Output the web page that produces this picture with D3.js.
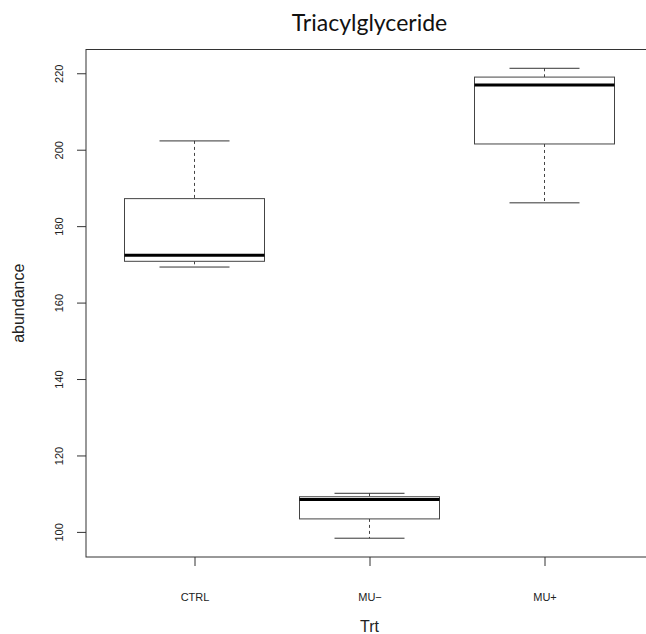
<!DOCTYPE html>
<html>
<head>
<meta charset="utf-8">
<script src="https://cdn.jsdelivr.net/npm/d3@7"></script>
<style>
  body { margin: 0; background: #fff; }
</style>
</head>
<body>
<script>
const groups = ['CTRL', 'MU\u2212', 'MU+']
const whiskerLow = [169.3, 98.35, 186.1]
const lowerQuartile = [170.8, 103.4, 201.5]
const medians = [172.4, 108.5, 216.9]
const upperQuartile = [187.2, 109.2, 219.0]
const whiskerHigh = [202.3, 110.1, 221.3]
const yTicks = [100, 120, 140, 160, 180, 200, 220]

const width = 646
const height = 634
const margin = { top: 49.5, bottom: 557, left: 86 }

const stats = groups.map((g, i) => ({
  name: g,
  pos: i + 1,
  lo: whiskerLow[i],
  q1: lowerQuartile[i],
  med: medians[i],
  q3: upperQuartile[i],
  hi: whiskerHigh[i]
}))

// R style limits: range + 4% on each side
const yMin = d3.min(whiskerLow)
const yMax = d3.max(whiskerHigh)
const yPad = (yMax - yMin) * 0.04
const xPad = (groups.length) * 0.04

const x = d3
  .scaleLinear()
  .domain([0.5 - xPad, groups.length + 0.5 + xPad])
  .range([margin.left, margin.left + 567])

const y = d3
  .scaleLinear()
  .domain([yMin - yPad, yMax + yPad])
  .range([margin.bottom, margin.top])

const svg = d3
  .select('body')
  .append('svg')
  .attr('width', width)
  .attr('height', height)
  .style('font-family', 'Liberation Sans, Arial, sans-serif')

// Title
svg
  .append('text')
  .attr('x', (x.range()[0] + x.range()[1]) / 2)
  .attr('y', 31)
  .attr('text-anchor', 'middle')
  .style('font-family', 'Lato, sans-serif')
  .style('font-size', '23px')
  .attr('fill', '#111')
  .text('Triacylglyceride')

const boxW = (x(1.4) - x(1)) // half width of box (0.8 total)
const capW = boxW / 2

const box = svg
  .selectAll('g.box')
  .data(stats)
  .enter()
  .append('g')
  .attr('class', 'box')

// whiskers
box
  .append('line')
  .attr('x1', (d) => x(d.pos))
  .attr('x2', (d) => x(d.pos))
  .attr('y1', (d) => y(d.hi))
  .attr('y2', (d) => y(d.q3))
  .attr('stroke', '#444')
  .attr('stroke-dasharray', '3,3')
box
  .append('line')
  .attr('x1', (d) => x(d.pos))
  .attr('x2', (d) => x(d.pos))
  .attr('y1', (d) => y(d.q1))
  .attr('y2', (d) => y(d.lo))
  .attr('stroke', '#444')
  .attr('stroke-dasharray', '3,3')

// staples
box
  .selectAll('line.cap')
  .data((d) => [d, d].map((s, i) => ({ pos: s.pos, v: i ? s.lo : s.hi })))
  .enter()
  .append('line')
  .attr('class', 'cap')
  .attr('x1', (d) => x(d.pos) - capW)
  .attr('x2', (d) => x(d.pos) + capW)
  .attr('y1', (d) => y(d.v))
  .attr('y2', (d) => y(d.v))
  .attr('stroke', '#333')

// box
box
  .append('rect')
  .attr('x', (d) => x(d.pos) - boxW)
  .attr('width', boxW * 2)
  .attr('y', (d) => y(d.q3))
  .attr('height', (d) => y(d.q1) - y(d.q3))
  .attr('fill', '#fff')
  .attr('stroke', '#444')

// median
box
  .append('line')
  .attr('x1', (d) => x(d.pos) - boxW)
  .attr('x2', (d) => x(d.pos) + boxW)
  .attr('y1', (d) => y(d.med))
  .attr('y2', (d) => y(d.med))
  .attr('stroke', '#000')
  .attr('stroke-width', 3)

// frame
svg
  .append('rect')
  .attr('x', x.range()[0])
  .attr('y', y.range()[1])
  .attr('width', x.range()[1] - x.range()[0])
  .attr('height', y.range()[0] - y.range()[1])
  .attr('fill', 'none')
  .attr('stroke', '#333')

// y axis
const yAxis = svg
  .append('g')
  .attr('transform', `translate(${x.range()[0]},0)`)
  .call(d3.axisLeft(y).tickValues(yTicks).tickSize(9).tickPadding(0))
yAxis.select('.domain').remove()
yAxis.selectAll('.tick line').attr('stroke', '#333')
yAxis
  .selectAll('.tick text')
  .attr('transform', 'rotate(-90)')
  .attr('x', 0)
  .attr('y', -23)
  .attr('dy', 0)
  .attr('text-anchor', 'middle')
  .style('font-size', '11px')
  .style('font-family', 'Liberation Sans, Arial, sans-serif')
  .attr('fill', '#222')

// x axis
const xAxis = svg
  .append('g')
  .attr('transform', `translate(0,${y.range()[0]})`)
  .call(
    d3
      .axisBottom(x)
      .tickValues(stats.map((d) => d.pos))
      .tickFormat((d) => groups[d - 1])
      .tickSize(9)
      .tickPadding(27)
  )
xAxis.select('.domain').remove()
xAxis.selectAll('.tick line').attr('stroke', '#333')
xAxis
  .selectAll('.tick text')
  .style('font-size', '11px')
  .style('font-family', 'Liberation Sans, Arial, sans-serif')
  .attr('fill', '#222')

// axis titles
svg
  .append('text')
  .attr('x', (x.range()[0] + x.range()[1]) / 2)
  .attr('y', 632)
  .attr('text-anchor', 'middle')
  .style('font-size', '16px')
  .attr('fill', '#222')
  .text('Trt')

svg
  .append('text')
  .attr('transform', `translate(24,${(y.range()[0] + y.range()[1]) / 2}) rotate(-90)`)
  .attr('text-anchor', 'middle')
  .style('font-size', '16px')
  .attr('fill', '#222')
  .text('abundance')
</script>
</body>
</html>
